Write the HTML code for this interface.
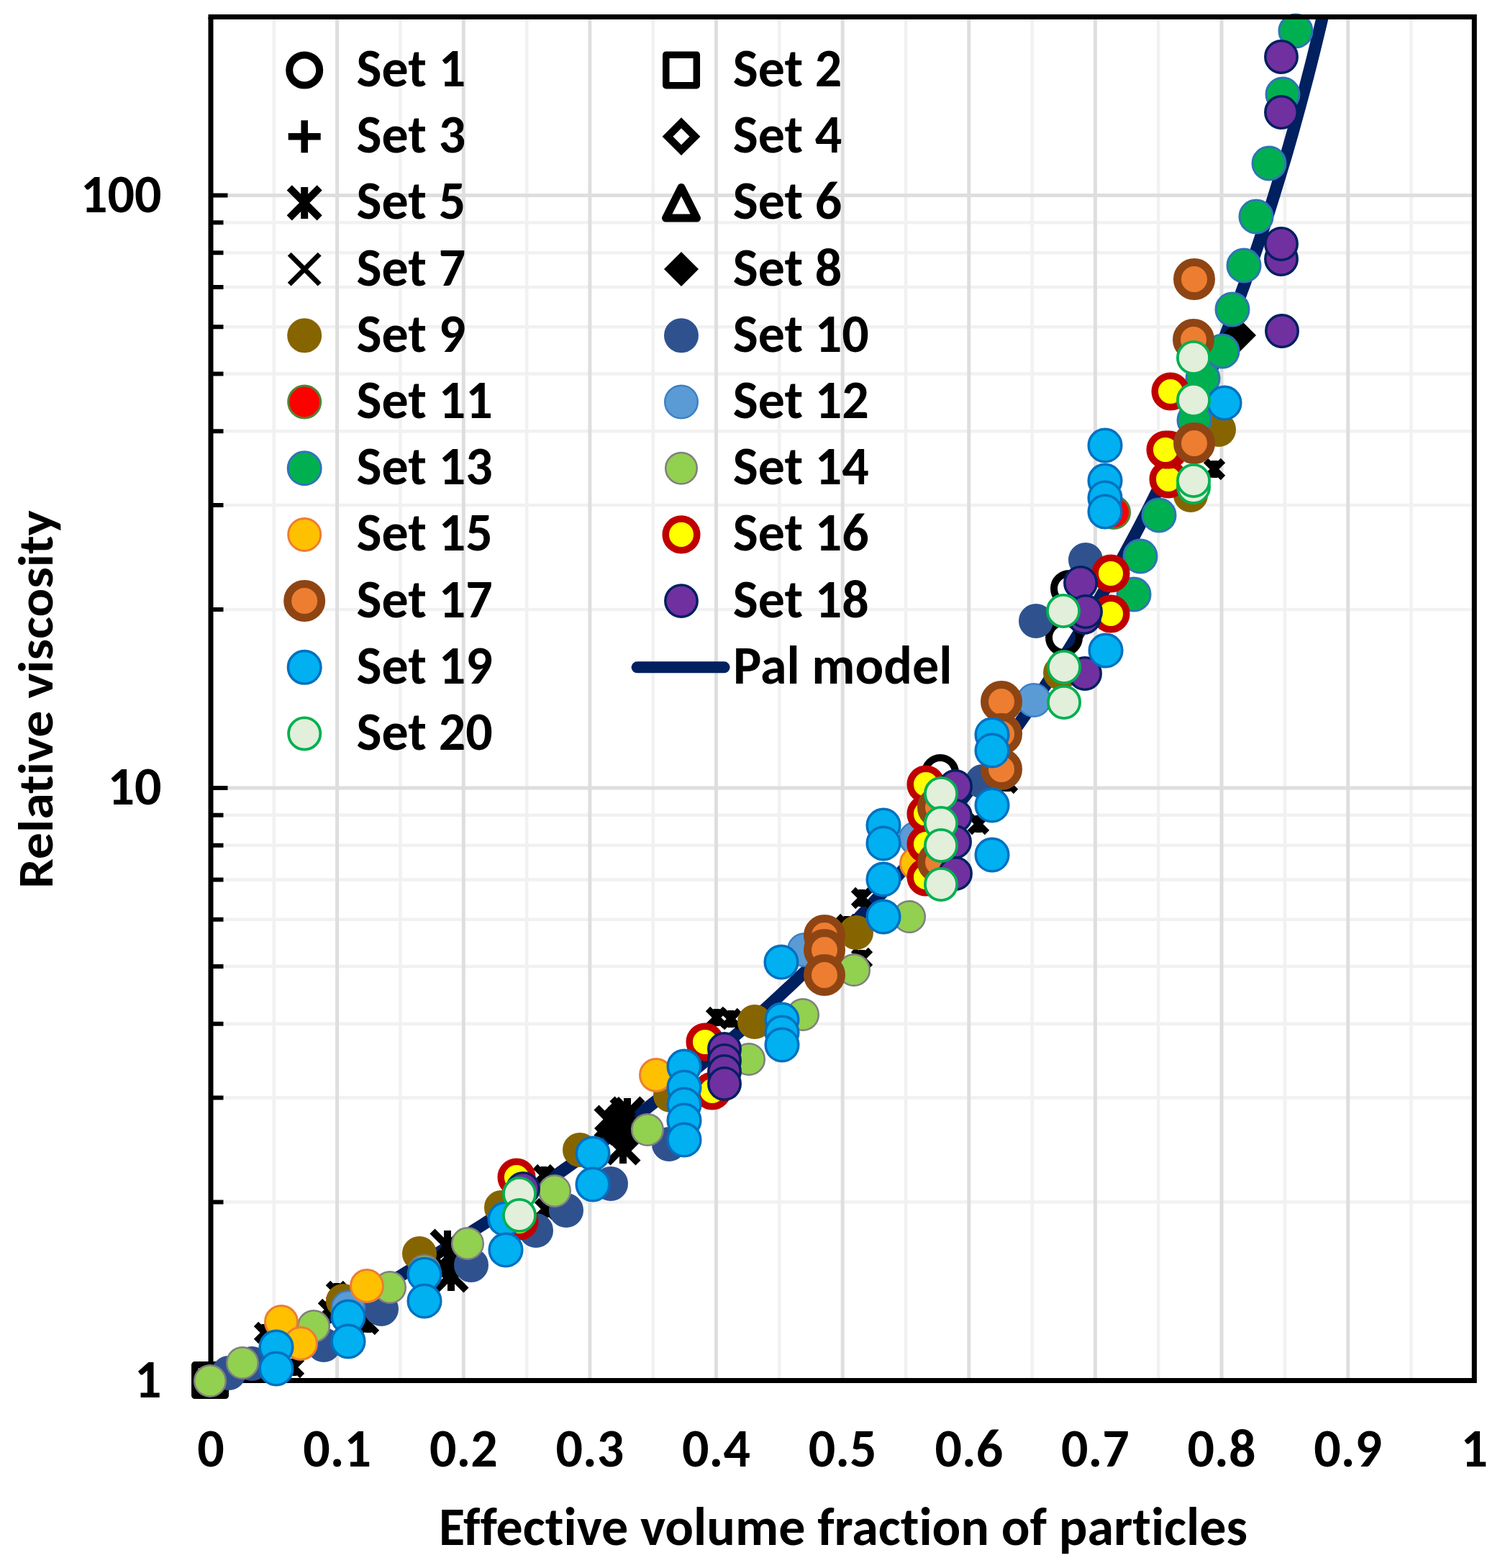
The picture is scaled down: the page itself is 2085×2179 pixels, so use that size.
<!DOCTYPE html>
<html><head><meta charset="utf-8"><title>Relative viscosity vs effective volume fraction</title>
<style>html,body{margin:0;padding:0;background:#fff}svg{display:block}</style></head><body>
<svg width="2085" height="2179" viewBox="0 0 2085 2179">
<rect width="2085" height="2179" fill="#fff"/>
<path d="M380.8 23.6V1918.5M556.4 23.6V1918.5M732.1 23.6V1918.5M907.7 23.6V1918.5M1083.3 23.6V1918.5M1259 23.6V1918.5M1434.6 23.6V1918.5M1610.2 23.6V1918.5M1785.9 23.6V1918.5M1961.5 23.6V1918.5M293 1670.6H2049.3M293 1525.6H2049.3M293 1422.7H2049.3M293 1342.9H2049.3M293 1277.7H2049.3M293 1222.6H2049.3M293 1174.8H2049.3M293 1132.7H2049.3M293 847.1H2049.3M293 702.1H2049.3M293 599.2H2049.3M293 519.4H2049.3M293 454.2H2049.3M293 399.1H2049.3M293 351.3H2049.3M293 309.2H2049.3" stroke="#F1F1F1" stroke-width="4.5" fill="none"/>
<path d="M468.6 23.6V1918.5M644.3 23.6V1918.5M819.9 23.6V1918.5M995.5 23.6V1918.5M1171.2 23.6V1918.5M1346.8 23.6V1918.5M1522.4 23.6V1918.5M1698 23.6V1918.5M1873.7 23.6V1918.5M293 1095H2049.3M293 271.5H2049.3" stroke="#DEDEDE" stroke-width="5" fill="none"/>
<defs><clipPath id="pa"><rect x="293" y="23.6" width="1756.3" height="1894.9"/></clipPath></defs>
<path d="M293 1918.5L301.8 1914L310.6 1909.5L319.3 1905L328.1 1900.4L336.9 1895.9L345.7 1891.3L354.5 1886.6L363.3 1882L372 1877.3L380.8 1872.6L389.6 1867.9L398.4 1863.2L407.2 1858.4L415.9 1853.6L424.7 1848.8L433.5 1843.9L442.3 1839.1L451.1 1834.2L459.8 1829.3L468.6 1824.3L477.4 1819.3L486.2 1814.3L495 1809.3L503.8 1804.2L512.5 1799.1L521.3 1794L530.1 1788.8L538.9 1783.6L547.7 1778.4L556.4 1773.2L565.2 1767.9L574 1762.6L582.8 1757.3L591.6 1751.9L600.4 1746.5L609.1 1741.1L617.9 1735.6L626.7 1730.1L635.5 1724.6L644.3 1719L653 1713.4L661.8 1707.7L670.6 1702.1L679.4 1696.3L688.2 1690.6L696.9 1684.8L705.7 1679L714.5 1673.1L723.3 1667.2L732.1 1661.3L740.9 1655.3L749.6 1649.3L758.4 1643.2L767.2 1637.1L776 1631L784.8 1624.8L793.5 1618.6L802.3 1612.3L811.1 1606L819.9 1599.6L828.7 1593.2L837.5 1586.7L846.2 1580.2L855 1573.7L863.8 1567.1L872.6 1560.4L881.4 1553.7L890.1 1547L898.9 1540.2L907.7 1533.3L916.5 1526.4L925.3 1519.5L934 1512.5L942.8 1505.4L951.6 1498.3L960.4 1491.1L969.2 1483.8L978 1476.5L986.7 1469.2L995.5 1461.8L1004.3 1454.3L1013.1 1446.7L1021.9 1439.1L1030.6 1431.5L1039.4 1423.7L1048.2 1415.9L1057 1408L1065.8 1400.1L1074.6 1392.1L1083.3 1384L1092.1 1375.8L1100.9 1367.6L1109.7 1359.2L1118.5 1350.9L1127.2 1342.4L1136 1333.8L1144.8 1325.2L1153.6 1316.5L1162.4 1307.7L1171.2 1298.8L1179.9 1289.8L1188.7 1280.7L1197.5 1271.5L1206.3 1262.3L1215.1 1252.9L1223.8 1243.4L1232.6 1233.9L1241.4 1224.2L1250.2 1214.4L1259 1204.6L1267.7 1194.6L1276.5 1184.5L1285.3 1174.2L1294.1 1163.9L1302.9 1153.4L1311.7 1142.9L1320.4 1132.2L1329.2 1121.3L1338 1110.3L1346.8 1099.2L1355.6 1088L1364.3 1076.6L1373.1 1065.1L1381.9 1053.4L1390.7 1041.5L1399.5 1029.5L1408.3 1017.4L1417 1005L1425.8 992.5L1434.6 979.9L1443.4 967L1452.2 953.9L1460.9 940.7L1469.7 927.2L1478.5 913.6L1487.3 899.7L1496.1 885.6L1504.8 871.3L1513.6 856.8L1522.4 842L1531.2 827L1540 811.7L1548.8 796.2L1557.5 780.3L1566.3 764.2L1575.1 747.8L1583.9 731.1L1592.7 714.1L1601.4 696.7L1610.2 679L1619 660.9L1627.8 642.5L1636.6 623.7L1645.4 604.5L1654.1 584.8L1662.9 564.7L1671.7 544.2L1680.5 523.1L1689.3 501.6L1698 479.5L1701.6 470.5L1705.1 461.4L1708.6 452.3L1712.1 443L1715.6 433.6L1719.1 424.2L1722.6 414.6L1726.1 404.9L1729.7 395.2L1733.2 385.3L1736.7 375.3L1740.2 365.2L1743.7 355L1747.2 344.6L1750.7 334.2L1754.2 323.6L1757.8 312.9L1761.3 302.1L1764.8 291.1L1768.3 280L1771.8 268.7L1775.3 257.3L1778.8 245.8L1782.3 234.1L1785.9 222.3L1789.4 210.3L1792.9 198.1L1796.4 185.8L1799.9 173.3L1803.4 160.6L1806.9 147.7L1810.4 134.7L1814 121.4L1817.5 108L1821 94.3L1824.5 80.5L1828 66.4L1831.5 52.1L1835 37.5L1838.5 22.8L1842.1 7.7L1845.6 -7.5" fill="none" stroke="#002060" stroke-width="17" stroke-linejoin="round" clip-path="url(#pa)"/>
<path d="M293 23.6V1918.5H2049.3" fill="none" stroke="#000" stroke-width="7"/>
<path d="M293 1670.6H310.5M293 1525.6H310.5M293 1422.7H310.5M293 1342.9H310.5M293 1277.7H310.5M293 1222.6H310.5M293 1174.8H310.5M293 1132.7H310.5M293 1095H316.5M293 847.1H310.5M293 702.1H310.5M293 599.2H310.5M293 519.4H310.5M293 454.2H310.5M293 399.1H310.5M293 351.3H310.5M293 309.2H310.5M293 271.5H316.5M293 23.6H310.5" stroke="#000" stroke-width="6"/>
<g>
<path d="M356 1840L380 1864M380 1840L356 1864M368 1840V1864" stroke="#000" stroke-width="9"/>
<path d="M396 1888L420 1912M420 1888L396 1912M408 1888V1912" stroke="#000" stroke-width="9"/>
<path d="M456 1783L480 1807M480 1783L456 1807M468 1783V1807" stroke="#000" stroke-width="9"/>
<path d="M445 1808L469 1832M469 1808L445 1832M457 1808V1832" stroke="#000" stroke-width="9"/>
<path d="M500 1828L524 1852M524 1828L500 1852M512 1828V1852" stroke="#000" stroke-width="9"/>
<path d="M744 1621L768 1645M768 1621L744 1645M756 1621V1645" stroke="#000" stroke-width="9"/>
<path d="M746 1668L770 1692M770 1668L746 1692M758 1668V1692" stroke="#000" stroke-width="9"/>
<path d="M984 1402L1008 1426M1008 1402L984 1426M996 1402V1426" stroke="#000" stroke-width="9"/>
<path d="M1004 1404L1028 1428M1028 1404L1004 1428M1016 1404V1428" stroke="#000" stroke-width="9"/>
<path d="M1186 1320L1210 1344M1210 1320L1186 1344M1198 1320V1344" stroke="#000" stroke-width="9"/>
<path d="M1165 1273L1189 1297M1189 1273L1165 1297M1177 1273V1297" stroke="#000" stroke-width="9"/>
<path d="M1186 1236L1210 1260M1210 1236L1186 1260M1198 1236V1260" stroke="#000" stroke-width="9"/>
<path d="M1348 1133L1372 1157M1372 1133L1348 1157M1360 1133V1157" stroke="#000" stroke-width="9"/>
<path d="M1388 1076L1412 1100M1412 1076L1388 1100M1400 1076V1100" stroke="#000" stroke-width="9"/>
<path d="M1676 640L1700 664M1700 640L1676 664M1688 640V664" stroke="#000" stroke-width="9"/>
<circle cx="1307" cy="1074" r="21" fill="none" stroke="#000" stroke-width="10"/>
<circle cx="1479" cy="886" r="21" fill="none" stroke="#000" stroke-width="10"/>
<circle cx="1486" cy="818" r="21" fill="none" stroke="#000" stroke-width="10"/>
<rect x="270.8" y="1896.8" width="42.5" height="42.5" fill="none" stroke="#000" stroke-width="9.5" stroke-linejoin="round"/>
<path d="M601 1711L643 1753M643 1711L601 1753M622 1710V1754" stroke="#000" stroke-width="10"/>
<path d="M606 1751L648 1793M648 1751L606 1793M627 1750V1794" stroke="#000" stroke-width="10"/>
<path d="M829 1539L871 1581M871 1539L829 1581M850 1538V1582" stroke="#000" stroke-width="10"/>
<path d="M851 1527L893 1569M893 1527L851 1569M872 1526V1570" stroke="#000" stroke-width="10"/>
<path d="M845 1574L887 1616M887 1574L845 1616M866 1573V1617" stroke="#000" stroke-width="10"/>
<path d="M1722 442L1746 466L1722 490L1698 466Z" fill="#000"/>
<path d="M850 1544L874 1568L850 1592L826 1568Z" fill="#000"/>
<path d="M868 1561L892 1585L868 1609L844 1585Z" fill="#000"/>
<path d="M860 1524L884 1548L860 1572L836 1548Z" fill="#000"/>
<path d="M626 1738L650 1762L626 1786L602 1762Z" fill="#000"/>
<circle cx="477" cy="1808" r="23" fill="#866500" stroke="#866500" stroke-width="2"/>
<circle cx="583" cy="1742" r="23" fill="#866500" stroke="#866500" stroke-width="2"/>
<circle cx="697" cy="1678" r="23" fill="#866500" stroke="#866500" stroke-width="2"/>
<circle cx="806" cy="1598" r="23" fill="#866500" stroke="#866500" stroke-width="2"/>
<circle cx="932" cy="1522" r="23" fill="#866500" stroke="#866500" stroke-width="2"/>
<circle cx="1049" cy="1420" r="23" fill="#866500" stroke="#866500" stroke-width="2"/>
<circle cx="1190" cy="1296" r="23" fill="#866500" stroke="#866500" stroke-width="2"/>
<circle cx="1474" cy="935" r="23" fill="#866500" stroke="#866500" stroke-width="2"/>
<circle cx="1655" cy="688" r="23" fill="#866500" stroke="#866500" stroke-width="2"/>
<circle cx="1694" cy="597" r="23" fill="#866500" stroke="#866500" stroke-width="2"/>
<circle cx="318" cy="1908" r="23" fill="#2F528F" stroke="#2F528F" stroke-width="2"/>
<circle cx="350" cy="1895" r="23" fill="#2F528F" stroke="#2F528F" stroke-width="2"/>
<circle cx="450" cy="1869" r="23" fill="#2F528F" stroke="#2F528F" stroke-width="2"/>
<circle cx="530" cy="1819" r="23" fill="#2F528F" stroke="#2F528F" stroke-width="2"/>
<circle cx="655" cy="1758" r="23" fill="#2F528F" stroke="#2F528F" stroke-width="2"/>
<circle cx="745" cy="1710" r="23" fill="#2F528F" stroke="#2F528F" stroke-width="2"/>
<circle cx="787" cy="1682" r="23" fill="#2F528F" stroke="#2F528F" stroke-width="2"/>
<circle cx="849" cy="1645" r="23" fill="#2F528F" stroke="#2F528F" stroke-width="2"/>
<circle cx="930" cy="1590" r="23" fill="#2F528F" stroke="#2F528F" stroke-width="2"/>
<circle cx="1366" cy="1086" r="23" fill="#2F528F" stroke="#2F528F" stroke-width="2"/>
<circle cx="1440" cy="863" r="23" fill="#2F528F" stroke="#2F528F" stroke-width="2"/>
<circle cx="1509" cy="778" r="23" fill="#2F528F" stroke="#2F528F" stroke-width="2"/>
<circle cx="1548" cy="712" r="22.5" fill="#FF0000" stroke="#548235" stroke-width="3"/>
<circle cx="484" cy="1817" r="22.8" fill="#5B9BD5" stroke="#3C80C6" stroke-width="2.5"/>
<circle cx="1118" cy="1320" r="22.8" fill="#5B9BD5" stroke="#3C80C6" stroke-width="2.5"/>
<circle cx="1273" cy="1165" r="22.8" fill="#5B9BD5" stroke="#3C80C6" stroke-width="2.5"/>
<circle cx="1437" cy="973" r="22.8" fill="#5B9BD5" stroke="#3C80C6" stroke-width="2.5"/>
<circle cx="1585" cy="773" r="23" fill="#00B050" stroke="#2E75B6" stroke-width="3"/>
<circle cx="1576" cy="826" r="23" fill="#00B050" stroke="#2E75B6" stroke-width="3"/>
<circle cx="1611" cy="716" r="23" fill="#00B050" stroke="#2E75B6" stroke-width="3"/>
<circle cx="1729" cy="369" r="23" fill="#00B050" stroke="#2E75B6" stroke-width="3"/>
<circle cx="1713" cy="430" r="23" fill="#00B050" stroke="#2E75B6" stroke-width="3"/>
<circle cx="1699" cy="488" r="23" fill="#00B050" stroke="#2E75B6" stroke-width="3"/>
<circle cx="1672" cy="526" r="23" fill="#00B050" stroke="#2E75B6" stroke-width="3"/>
<circle cx="1660" cy="584" r="23" fill="#00B050" stroke="#2E75B6" stroke-width="3"/>
<circle cx="1801" cy="43" r="23" fill="#00B050" stroke="#2E75B6" stroke-width="3"/>
<circle cx="1783" cy="131" r="23" fill="#00B050" stroke="#2E75B6" stroke-width="3"/>
<circle cx="1764" cy="227" r="23" fill="#00B050" stroke="#2E75B6" stroke-width="3"/>
<circle cx="1746" cy="301" r="23" fill="#00B050" stroke="#2E75B6" stroke-width="3"/>
<circle cx="292" cy="1919" r="21.8" fill="#92D050" stroke="#7F7F7F" stroke-width="2.5"/>
<circle cx="337" cy="1894" r="21.8" fill="#92D050" stroke="#7F7F7F" stroke-width="2.5"/>
<circle cx="436" cy="1843" r="21.8" fill="#92D050" stroke="#7F7F7F" stroke-width="2.5"/>
<circle cx="542" cy="1789" r="21.8" fill="#92D050" stroke="#7F7F7F" stroke-width="2.5"/>
<circle cx="590" cy="1766" r="21.8" fill="#92D050" stroke="#7F7F7F" stroke-width="2.5"/>
<circle cx="650" cy="1728" r="21.8" fill="#92D050" stroke="#7F7F7F" stroke-width="2.5"/>
<circle cx="771" cy="1655" r="21.8" fill="#92D050" stroke="#7F7F7F" stroke-width="2.5"/>
<circle cx="900" cy="1570" r="21.8" fill="#92D050" stroke="#7F7F7F" stroke-width="2.5"/>
<circle cx="1041" cy="1472" r="21.8" fill="#92D050" stroke="#7F7F7F" stroke-width="2.5"/>
<circle cx="1116" cy="1410" r="21.8" fill="#92D050" stroke="#7F7F7F" stroke-width="2.5"/>
<circle cx="1187" cy="1348" r="21.8" fill="#92D050" stroke="#7F7F7F" stroke-width="2.5"/>
<circle cx="1264" cy="1274" r="21.8" fill="#92D050" stroke="#7F7F7F" stroke-width="2.5"/>
<circle cx="391" cy="1837" r="22.5" fill="#FFC000" stroke="#ED7D31" stroke-width="3"/>
<circle cx="418" cy="1867" r="22.5" fill="#FFC000" stroke="#ED7D31" stroke-width="3"/>
<circle cx="510" cy="1787" r="22.5" fill="#FFC000" stroke="#ED7D31" stroke-width="3"/>
<circle cx="912" cy="1494" r="22.5" fill="#FFC000" stroke="#ED7D31" stroke-width="3"/>
<circle cx="1274" cy="1200" r="22.5" fill="#FFC000" stroke="#ED7D31" stroke-width="3"/>
<circle cx="718" cy="1636" r="21.8" fill="#FFFF00" stroke="#C00000" stroke-width="9.5"/>
<circle cx="722" cy="1697" r="21.8" fill="#FFFF00" stroke="#C00000" stroke-width="9.5"/>
<circle cx="980" cy="1448" r="21.8" fill="#FFFF00" stroke="#C00000" stroke-width="9.5"/>
<circle cx="990" cy="1516" r="21.8" fill="#FFFF00" stroke="#C00000" stroke-width="9.5"/>
<circle cx="1287" cy="1090" r="21.8" fill="#FFFF00" stroke="#C00000" stroke-width="9.5"/>
<circle cx="1287" cy="1131" r="21.8" fill="#FFFF00" stroke="#C00000" stroke-width="9.5"/>
<circle cx="1287" cy="1173" r="21.8" fill="#FFFF00" stroke="#C00000" stroke-width="9.5"/>
<circle cx="1287" cy="1219" r="21.8" fill="#FFFF00" stroke="#C00000" stroke-width="9.5"/>
<circle cx="1544" cy="797" r="21.8" fill="#FFFF00" stroke="#C00000" stroke-width="9.5"/>
<circle cx="1544" cy="853" r="21.8" fill="#FFFF00" stroke="#C00000" stroke-width="9.5"/>
<circle cx="1624" cy="666" r="21.8" fill="#FFFF00" stroke="#C00000" stroke-width="9.5"/>
<circle cx="1627" cy="544" r="21.8" fill="#FFFF00" stroke="#C00000" stroke-width="9.5"/>
<circle cx="1625" cy="625" r="21.8" fill="#FFFF00" stroke="#C00000" stroke-width="9.5"/>
<circle cx="1620" cy="625" r="21.8" fill="#FFFF00" stroke="#C00000" stroke-width="9.5"/>
<circle cx="1146" cy="1300" r="23.5" fill="#ED7D31" stroke="#8E4513" stroke-width="11"/>
<circle cx="1146" cy="1320" r="23.5" fill="#ED7D31" stroke="#8E4513" stroke-width="11"/>
<circle cx="1146" cy="1355" r="23.5" fill="#ED7D31" stroke="#8E4513" stroke-width="11"/>
<circle cx="1304" cy="1122" r="23.5" fill="#ED7D31" stroke="#8E4513" stroke-width="11"/>
<circle cx="1304" cy="1198" r="23.5" fill="#ED7D31" stroke="#8E4513" stroke-width="11"/>
<circle cx="1392" cy="975" r="23.5" fill="#ED7D31" stroke="#8E4513" stroke-width="11"/>
<circle cx="1392" cy="1020" r="23.5" fill="#ED7D31" stroke="#8E4513" stroke-width="11"/>
<circle cx="1392" cy="1069" r="23.5" fill="#ED7D31" stroke="#8E4513" stroke-width="11"/>
<circle cx="1660" cy="388" r="23.5" fill="#ED7D31" stroke="#8E4513" stroke-width="11"/>
<circle cx="1659" cy="472" r="23.5" fill="#ED7D31" stroke="#8E4513" stroke-width="11"/>
<circle cx="1660" cy="616" r="23.5" fill="#ED7D31" stroke="#8E4513" stroke-width="11"/>
<circle cx="727" cy="1652" r="22.2" fill="#7030A0" stroke="#002060" stroke-width="3.5"/>
<circle cx="1328" cy="1093" r="22.2" fill="#7030A0" stroke="#002060" stroke-width="3.5"/>
<circle cx="1328" cy="1134" r="22.2" fill="#7030A0" stroke="#002060" stroke-width="3.5"/>
<circle cx="1327" cy="1170" r="22.2" fill="#7030A0" stroke="#002060" stroke-width="3.5"/>
<circle cx="1328" cy="1214" r="22.2" fill="#7030A0" stroke="#002060" stroke-width="3.5"/>
<circle cx="1508" cy="936" r="22.2" fill="#7030A0" stroke="#002060" stroke-width="3.5"/>
<circle cx="1507" cy="858" r="22.2" fill="#7030A0" stroke="#002060" stroke-width="3.5"/>
<circle cx="1502" cy="810" r="22.2" fill="#7030A0" stroke="#002060" stroke-width="3.5"/>
<circle cx="1509" cy="850" r="22.2" fill="#7030A0" stroke="#002060" stroke-width="3.5"/>
<circle cx="1781" cy="360" r="22.2" fill="#7030A0" stroke="#002060" stroke-width="3.5"/>
<circle cx="1782" cy="460" r="22.2" fill="#7030A0" stroke="#002060" stroke-width="3.5"/>
<circle cx="1007" cy="1458" r="22.2" fill="#7030A0" stroke="#002060" stroke-width="3.5"/>
<circle cx="1007" cy="1474" r="22.2" fill="#7030A0" stroke="#002060" stroke-width="3.5"/>
<circle cx="1007" cy="1489" r="22.2" fill="#7030A0" stroke="#002060" stroke-width="3.5"/>
<circle cx="1007" cy="1506" r="22.2" fill="#7030A0" stroke="#002060" stroke-width="3.5"/>
<circle cx="1781" cy="79" r="22.2" fill="#7030A0" stroke="#002060" stroke-width="3.5"/>
<circle cx="1781" cy="156" r="22.2" fill="#7030A0" stroke="#002060" stroke-width="3.5"/>
<circle cx="1781" cy="339" r="22.2" fill="#7030A0" stroke="#002060" stroke-width="3.5"/>
<circle cx="384" cy="1872" r="22.8" fill="#00B0F0" stroke="#0070C0" stroke-width="3.5"/>
<circle cx="384" cy="1902" r="22.8" fill="#00B0F0" stroke="#0070C0" stroke-width="3.5"/>
<circle cx="484" cy="1830" r="22.8" fill="#00B0F0" stroke="#0070C0" stroke-width="3.5"/>
<circle cx="484" cy="1864" r="22.8" fill="#00B0F0" stroke="#0070C0" stroke-width="3.5"/>
<circle cx="590" cy="1771" r="22.8" fill="#00B0F0" stroke="#0070C0" stroke-width="3.5"/>
<circle cx="590" cy="1808" r="22.8" fill="#00B0F0" stroke="#0070C0" stroke-width="3.5"/>
<circle cx="702" cy="1694" r="22.8" fill="#00B0F0" stroke="#0070C0" stroke-width="3.5"/>
<circle cx="703" cy="1737" r="22.8" fill="#00B0F0" stroke="#0070C0" stroke-width="3.5"/>
<circle cx="824" cy="1603" r="22.8" fill="#00B0F0" stroke="#0070C0" stroke-width="3.5"/>
<circle cx="824" cy="1646" r="22.8" fill="#00B0F0" stroke="#0070C0" stroke-width="3.5"/>
<circle cx="1086" cy="1337" r="22.8" fill="#00B0F0" stroke="#0070C0" stroke-width="3.5"/>
<circle cx="1228" cy="1274" r="22.8" fill="#00B0F0" stroke="#0070C0" stroke-width="3.5"/>
<circle cx="1228" cy="1147" r="22.8" fill="#00B0F0" stroke="#0070C0" stroke-width="3.5"/>
<circle cx="1228" cy="1172" r="22.8" fill="#00B0F0" stroke="#0070C0" stroke-width="3.5"/>
<circle cx="1228" cy="1222" r="22.8" fill="#00B0F0" stroke="#0070C0" stroke-width="3.5"/>
<circle cx="1379" cy="1119" r="22.8" fill="#00B0F0" stroke="#0070C0" stroke-width="3.5"/>
<circle cx="1379" cy="1188" r="22.8" fill="#00B0F0" stroke="#0070C0" stroke-width="3.5"/>
<circle cx="1379" cy="1021" r="22.8" fill="#00B0F0" stroke="#0070C0" stroke-width="3.5"/>
<circle cx="1379" cy="1043" r="22.8" fill="#00B0F0" stroke="#0070C0" stroke-width="3.5"/>
<circle cx="1537" cy="904" r="22.8" fill="#00B0F0" stroke="#0070C0" stroke-width="3.5"/>
<circle cx="1702" cy="560" r="22.8" fill="#00B0F0" stroke="#0070C0" stroke-width="3.5"/>
<circle cx="1536" cy="619" r="22.8" fill="#00B0F0" stroke="#0070C0" stroke-width="3.5"/>
<circle cx="1536" cy="668" r="22.8" fill="#00B0F0" stroke="#0070C0" stroke-width="3.5"/>
<circle cx="1536" cy="692" r="22.8" fill="#00B0F0" stroke="#0070C0" stroke-width="3.5"/>
<circle cx="1536" cy="711" r="22.8" fill="#00B0F0" stroke="#0070C0" stroke-width="3.5"/>
<circle cx="1087" cy="1417" r="22.8" fill="#00B0F0" stroke="#0070C0" stroke-width="3.5"/>
<circle cx="1087" cy="1435" r="22.8" fill="#00B0F0" stroke="#0070C0" stroke-width="3.5"/>
<circle cx="1087" cy="1452" r="22.8" fill="#00B0F0" stroke="#0070C0" stroke-width="3.5"/>
<circle cx="951" cy="1482" r="22.8" fill="#00B0F0" stroke="#0070C0" stroke-width="3.5"/>
<circle cx="951" cy="1511" r="22.8" fill="#00B0F0" stroke="#0070C0" stroke-width="3.5"/>
<circle cx="951" cy="1535" r="22.8" fill="#00B0F0" stroke="#0070C0" stroke-width="3.5"/>
<circle cx="951" cy="1557" r="22.8" fill="#00B0F0" stroke="#0070C0" stroke-width="3.5"/>
<circle cx="951" cy="1584" r="22.8" fill="#00B0F0" stroke="#0070C0" stroke-width="3.5"/>
<circle cx="722" cy="1659" r="22.1" fill="#E2EFDA" stroke="#00B050" stroke-width="3.8"/>
<circle cx="722" cy="1689" r="22.1" fill="#E2EFDA" stroke="#00B050" stroke-width="3.8"/>
<circle cx="1308" cy="1103" r="22.1" fill="#E2EFDA" stroke="#00B050" stroke-width="3.8"/>
<circle cx="1308" cy="1144" r="22.1" fill="#E2EFDA" stroke="#00B050" stroke-width="3.8"/>
<circle cx="1308" cy="1175" r="22.1" fill="#E2EFDA" stroke="#00B050" stroke-width="3.8"/>
<circle cx="1308" cy="1229" r="22.1" fill="#E2EFDA" stroke="#00B050" stroke-width="3.8"/>
<circle cx="1478" cy="849" r="22.1" fill="#E2EFDA" stroke="#00B050" stroke-width="3.8"/>
<circle cx="1479" cy="927" r="22.1" fill="#E2EFDA" stroke="#00B050" stroke-width="3.8"/>
<circle cx="1479" cy="976" r="22.1" fill="#E2EFDA" stroke="#00B050" stroke-width="3.8"/>
<circle cx="1659" cy="677" r="22.1" fill="#E2EFDA" stroke="#00B050" stroke-width="3.8"/>
<circle cx="1659" cy="668" r="22.1" fill="#E2EFDA" stroke="#00B050" stroke-width="3.8"/>
<circle cx="1659" cy="497" r="22.1" fill="#E2EFDA" stroke="#00B050" stroke-width="3.8"/>
<circle cx="1659" cy="556" r="22.1" fill="#E2EFDA" stroke="#00B050" stroke-width="3.8"/>
</g>
<path d="M289.5 23.6H2049.3V1922" fill="none" stroke="#000" stroke-width="7"/>
<g font-family="Carlito, 'Liberation Sans', sans-serif" font-weight="bold" font-size="74" style="font-variant-ligatures:none;font-feature-settings:'liga' 0,'clig' 0" fill="#000">
<text x="224.5" y="1941.5" text-anchor="end" textLength="37.52" lengthAdjust="spacingAndGlyphs">1</text>
<text x="224.5" y="1118" text-anchor="end" textLength="75.02" lengthAdjust="spacingAndGlyphs">10</text>
<text x="224.5" y="294.5" text-anchor="end" textLength="112.53" lengthAdjust="spacingAndGlyphs">100</text>
<text x="293" y="2038" text-anchor="middle" textLength="37.52" lengthAdjust="spacingAndGlyphs">0</text>
<text x="468.6" y="2038" text-anchor="middle" textLength="94.78" lengthAdjust="spacingAndGlyphs">0.1</text>
<text x="644.3" y="2038" text-anchor="middle" textLength="94.78" lengthAdjust="spacingAndGlyphs">0.2</text>
<text x="819.9" y="2038" text-anchor="middle" textLength="94.78" lengthAdjust="spacingAndGlyphs">0.3</text>
<text x="995.5" y="2038" text-anchor="middle" textLength="94.78" lengthAdjust="spacingAndGlyphs">0.4</text>
<text x="1171.2" y="2038" text-anchor="middle" textLength="94.78" lengthAdjust="spacingAndGlyphs">0.5</text>
<text x="1346.8" y="2038" text-anchor="middle" textLength="94.78" lengthAdjust="spacingAndGlyphs">0.6</text>
<text x="1522.4" y="2038" text-anchor="middle" textLength="94.78" lengthAdjust="spacingAndGlyphs">0.7</text>
<text x="1698" y="2038" text-anchor="middle" textLength="94.78" lengthAdjust="spacingAndGlyphs">0.8</text>
<text x="1873.7" y="2038" text-anchor="middle" textLength="94.78" lengthAdjust="spacingAndGlyphs">0.9</text>
<text x="2049.3" y="2038" text-anchor="middle" textLength="37.52" lengthAdjust="spacingAndGlyphs">1</text>
<text x="1172" y="2147" text-anchor="middle" textLength="1124.03" lengthAdjust="spacingAndGlyphs">Effective volume fraction of particles</text>
<text transform="translate(73.4 972) rotate(-90) scale(1 0.93)" text-anchor="middle" textLength="525.48" lengthAdjust="spacingAndGlyphs">Relative viscosity</text>
</g>
<g font-family="Carlito, 'Liberation Sans', sans-serif" font-weight="bold" font-size="74" style="font-variant-ligatures:none;font-feature-settings:'liga' 0,'clig' 0" fill="#000">
<circle cx="423.2" cy="97.5" r="21" fill="none" stroke="#000" stroke-width="10"/>
<text x="495.6" y="120" textLength="151.62" lengthAdjust="spacingAndGlyphs">Set 1</text>
<path d="M400.7 189.7H445.7M423.2 167.2V212.2" stroke="#000" stroke-width="9.5"/>
<text x="495.6" y="212.2" textLength="151.62" lengthAdjust="spacingAndGlyphs">Set 3</text>
<path d="M402.2 260.9L444.2 302.9M444.2 260.9L402.2 302.9M423.2 259.9V303.9" stroke="#000" stroke-width="10"/>
<text x="495.6" y="304.4" textLength="151.62" lengthAdjust="spacingAndGlyphs">Set 5</text>
<path d="M402.2 353.1L444.2 395.1M444.2 353.1L402.2 395.1" stroke="#000" stroke-width="7"/>
<text x="495.6" y="396.6" textLength="151.62" lengthAdjust="spacingAndGlyphs">Set 7</text>
<circle cx="423.2" cy="466.3" r="23" fill="#866500" stroke="#866500" stroke-width="2"/>
<text x="495.6" y="488.8" textLength="151.62" lengthAdjust="spacingAndGlyphs">Set 9</text>
<circle cx="423.2" cy="558.5" r="22.5" fill="#FF0000" stroke="#548235" stroke-width="3"/>
<text x="495.6" y="581" textLength="189.12" lengthAdjust="spacingAndGlyphs">Set 11</text>
<circle cx="423.2" cy="650.7" r="23" fill="#00B050" stroke="#2E75B6" stroke-width="3"/>
<text x="495.6" y="673.2" textLength="189.12" lengthAdjust="spacingAndGlyphs">Set 13</text>
<circle cx="423.2" cy="742.9" r="22.5" fill="#FFC000" stroke="#ED7D31" stroke-width="3"/>
<text x="495.6" y="765.4" textLength="189.12" lengthAdjust="spacingAndGlyphs">Set 15</text>
<circle cx="423.2" cy="835.1" r="23.5" fill="#ED7D31" stroke="#8E4513" stroke-width="11"/>
<text x="495.6" y="857.6" textLength="189.12" lengthAdjust="spacingAndGlyphs">Set 17</text>
<circle cx="423.2" cy="927.3" r="22.8" fill="#00B0F0" stroke="#0070C0" stroke-width="3.5"/>
<text x="495.6" y="949.8" textLength="189.12" lengthAdjust="spacingAndGlyphs">Set 19</text>
<circle cx="423.2" cy="1019.5" r="22.1" fill="#E2EFDA" stroke="#00B050" stroke-width="3.8"/>
<text x="495.6" y="1042" textLength="189.12" lengthAdjust="spacingAndGlyphs">Set 20</text>
<rect x="925.8" y="76.2" width="42.5" height="42.5" fill="none" stroke="#000" stroke-width="9.5" stroke-linejoin="round"/>
<text x="1018.7" y="120" textLength="151.62" lengthAdjust="spacingAndGlyphs">Set 2</text>
<path d="M947 170.7L966 189.7L947 208.7L928 189.7Z" fill="none" stroke="#000" stroke-width="10.5"/>
<text x="1018.7" y="212.2" textLength="151.62" lengthAdjust="spacingAndGlyphs">Set 4</text>
<path d="M947 260.4L968.5 303.1L925.5 303.1Z" fill="none" stroke="#000" stroke-width="11" stroke-linejoin="round"/>
<text x="1018.7" y="304.4" textLength="151.62" lengthAdjust="spacingAndGlyphs">Set 6</text>
<path d="M947 350.1L971 374.1L947 398.1L923 374.1Z" fill="#000"/>
<text x="1018.7" y="396.6" textLength="151.62" lengthAdjust="spacingAndGlyphs">Set 8</text>
<circle cx="947" cy="466.3" r="23" fill="#2F528F" stroke="#2F528F" stroke-width="2"/>
<text x="1018.7" y="488.8" textLength="189.12" lengthAdjust="spacingAndGlyphs">Set 10</text>
<circle cx="947" cy="558.5" r="22.8" fill="#5B9BD5" stroke="#3C80C6" stroke-width="2.5"/>
<text x="1018.7" y="581" textLength="189.12" lengthAdjust="spacingAndGlyphs">Set 12</text>
<circle cx="947" cy="650.7" r="21.8" fill="#92D050" stroke="#7F7F7F" stroke-width="2.5"/>
<text x="1018.7" y="673.2" textLength="189.12" lengthAdjust="spacingAndGlyphs">Set 14</text>
<circle cx="947" cy="742.9" r="21.8" fill="#FFFF00" stroke="#C00000" stroke-width="9.5"/>
<text x="1018.7" y="765.4" textLength="189.12" lengthAdjust="spacingAndGlyphs">Set 16</text>
<circle cx="947" cy="835.1" r="22.2" fill="#7030A0" stroke="#002060" stroke-width="3.5"/>
<text x="1018.7" y="857.6" textLength="189.12" lengthAdjust="spacingAndGlyphs">Set 18</text>
<path d="M885.6 927.3H1006.6" stroke="#002060" stroke-width="16" stroke-linecap="round"/>
<text x="1019" y="949.8" textLength="304.50" lengthAdjust="spacingAndGlyphs">Pal model</text>
</g>
</svg></body></html>
